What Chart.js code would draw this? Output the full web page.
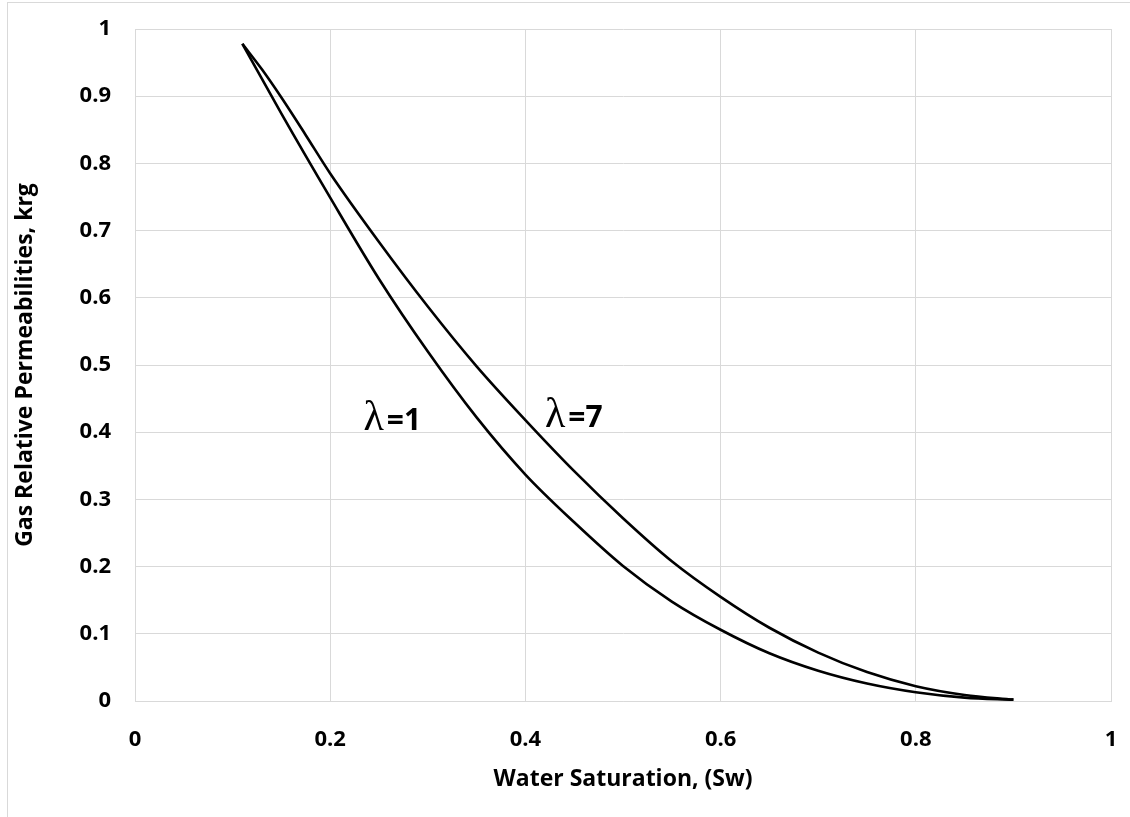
<!DOCTYPE html>
<html>
<head>
<meta charset="utf-8">
<script src="https://cdn.jsdelivr.net/npm/chart.js@4.4.1/dist/chart.umd.min.js"></script>
<style>
  html, body { margin: 0; padding: 0; background: #fff; }
  #wrap { position: relative; width: 1130px; height: 817px; }
</style>
</head>
<body>
<div id="wrap"><canvas id="krgChart" width="1130" height="817"></canvas></div>
<script>
// DATA
const swLambda1  = [0.11, 0.15, 0.2, 0.25, 0.3, 0.35, 0.4, 0.45, 0.5, 0.55, 0.6, 0.65, 0.7, 0.75, 0.8, 0.85, 0.9];
const krgLambda1 = [0.978, 0.874, 0.749, 0.628, 0.52, 0.422, 0.337, 0.266, 0.201, 0.148, 0.106, 0.071, 0.045, 0.026, 0.013, 0.005, 0.002];

const swLambda7  = [0.11, 0.13, 0.15, 0.175, 0.2, 0.25, 0.3, 0.35, 0.4, 0.45, 0.5, 0.55, 0.6, 0.65, 0.7, 0.75, 0.8, 0.85, 0.9];
const krgLambda7 = [0.978, 0.94, 0.898, 0.842, 0.785, 0.683, 0.587, 0.498, 0.418, 0.342, 0.272, 0.208, 0.155, 0.109, 0.072, 0.043, 0.022, 0.009, 0.002];

const curveLabels = [
  { text: "=1", sw: 0.234, krg: 0.403 },
  { text: "=7", sw: 0.42, krg: 0.408 }
];

const xTitle = "Water Saturation, (Sw)";
const yTitle = "Gas Relative Permeabilities, krg";

const toPoints = (xs, ys) => xs.map((x, i) => ({ x: x, y: ys[i] }));

// outer frame + lambda labels
const extras = {
  id: "extras",
  beforeDraw(chart) {
    const c = chart.ctx;
    c.save();
    c.strokeStyle = "#d9d9d9";
    c.lineWidth = 1;
    c.strokeRect(7.5, 2.5, 1300, 1000);
    c.restore();
  },
  afterDatasetsDraw(chart) {
    const c = chart.ctx;
    const xs = chart.scales.x, ys = chart.scales.y;
    c.save();
    c.fillStyle = "#000";
    c.textBaseline = "alphabetic";
    curveLabels.forEach(l => {
      const px = xs.getPixelForValue(l.sw);
      const py = ys.getPixelForValue(l.krg);
      c.font = "42px 'Liberation Serif'";
      c.fillText("\u03bb", px, py);
      const w = c.measureText("\u03bb").width;
      c.font = "bold 30px 'Open Sans'";
      c.fillText(l.text, px + w + 3, py);
    });
    c.restore();
  }
};

const tickFont = { family: "'Open Sans'", size: 22, weight: "bold" };

new Chart(document.getElementById("krgChart"), {
  type: "scatter",
  data: {
    datasets: [
      {
        label: "lambda=1",
        data: toPoints(swLambda1, krgLambda1),
        showLine: true,
        borderColor: "#000",
        borderWidth: 2.6,
        pointRadius: 0,
        cubicInterpolationMode: "monotone"
      },
      {
        label: "lambda=7",
        data: toPoints(swLambda7, krgLambda7),
        showLine: true,
        borderColor: "#000",
        borderWidth: 2.6,
        pointRadius: 0,
        cubicInterpolationMode: "monotone"
      }
    ]
  },
  options: {
    responsive: false,
    animation: false,
    layout: { padding: { left: 8, top: 29, right: 19, bottom: 20 } },
    plugins: {
      legend: { display: false },
      tooltip: { enabled: false }
    },
    scales: {
      x: {
        type: "linear",
        min: 0,
        max: 1,
        ticks: {
          stepSize: 0.2,
          color: "#000",
          font: tickFont,
          padding: 26,
          maxRotation: 0,
          callback: v => String(+v.toFixed(1))
        },
        grid: { color: "#d9d9d9", lineWidth: 1, drawTicks: false },
        border: { color: "#d9d9d9" },
        title: { display: true, text: xTitle, color: "#000", font: { family: "'Open Sans'", size: 23, weight: "bold" } },
        afterFit: s => {
          s.height = 817 - 701 - 20;
          s.paddingLeft = 0;
          s.paddingRight = 0;
        }
      },
      y: {
        type: "linear",
        min: 0,
        max: 1,
        ticks: {
          stepSize: 0.1,
          color: "#000",
          font: tickFont,
          padding: 24,
          callback: v => String(+v.toFixed(1))
        },
        grid: { color: "#d9d9d9", lineWidth: 1, drawTicks: false },
        border: { color: "#d9d9d9" },
        title: { display: true, text: yTitle, color: "#000", font: { family: "'Open Sans'", size: 23, weight: "bold" }, padding: { top: 4, bottom: 4 } },
        afterFit: s => {
          s.width = 135 - 8;
          s.paddingTop = 0;
          s.paddingBottom = 0;
        }
      }
    }
  },
  plugins: [extras]
});
</script>
</body>
</html>
